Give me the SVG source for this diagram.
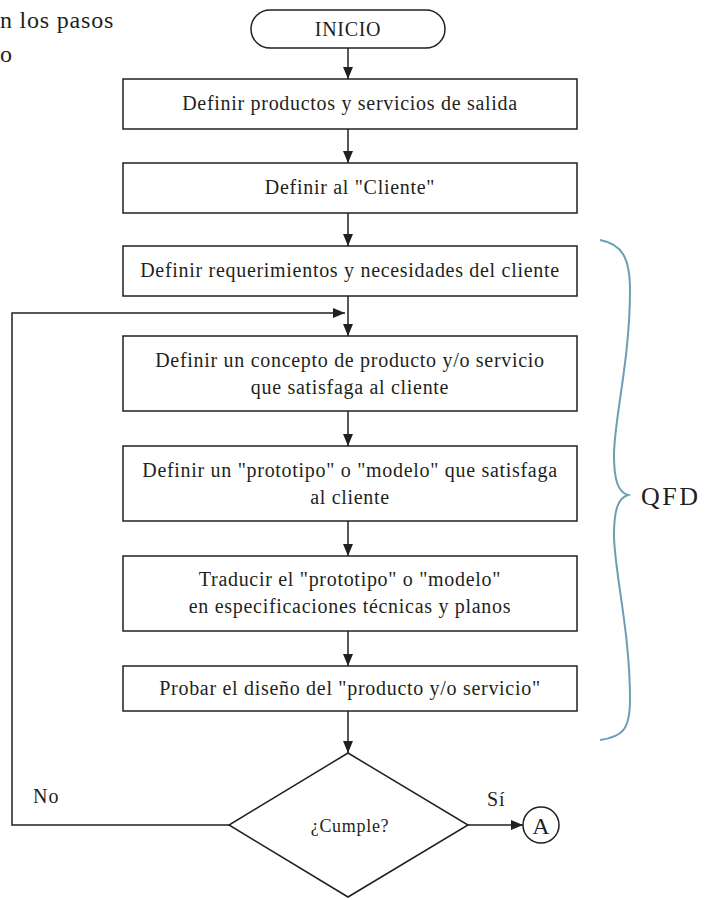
<svg xmlns="http://www.w3.org/2000/svg" width="712" height="900" viewBox="0 0 712 900">
  <style>
    .box { fill: #ffffff; stroke: #231f20; stroke-width: 1.5; }
    .edge { fill: none; stroke: #231f20; stroke-width: 1.5; }
    .lbl { font-family: "Liberation Serif", "Times New Roman", serif; font-size: 20px; letter-spacing: 0.7px; fill: #231f20; text-anchor: middle; }
    .side { font-family: "Liberation Serif", "Times New Roman", serif; font-size: 20px; letter-spacing: 1px; fill: #231f20; }
    .cap { font-family: "Liberation Serif", "Times New Roman", serif; font-size: 24px; letter-spacing: 0.8px; fill: #231f20; }
  </style>
  <defs>
    <marker id="arrow" viewBox="0 0 12 10" refX="12" refY="5" markerWidth="12" markerHeight="10" markerUnits="userSpaceOnUse" orient="auto">
      <path d="M0,0 L12,5 L0,10 Z" fill="#231f20"/>
    </marker>
  </defs>

  <rect width="712" height="900" fill="#ffffff"/>

  <!-- caption fragment at the page edge -->
  <text class="cap" x="0" y="28">n los pasos</text>
  <text class="cap" x="0" y="62">o</text>

  <!-- connectors -->
  <g id="connectors">
    <line class="edge" x1="348" y1="48" x2="348" y2="79" marker-end="url(#arrow)"/>
    <line class="edge" x1="348" y1="129" x2="348" y2="163" marker-end="url(#arrow)"/>
    <line class="edge" x1="348" y1="213" x2="348" y2="246" marker-end="url(#arrow)"/>
    <line class="edge" x1="348" y1="296" x2="348" y2="336" marker-end="url(#arrow)"/>
    <line class="edge" x1="348" y1="411" x2="348" y2="446" marker-end="url(#arrow)"/>
    <line class="edge" x1="348" y1="521" x2="348" y2="556" marker-end="url(#arrow)"/>
    <line class="edge" x1="348" y1="631" x2="348" y2="666" marker-end="url(#arrow)"/>
    <line class="edge" x1="348" y1="711" x2="348" y2="753" marker-end="url(#arrow)"/>
    <polyline class="edge" points="229,825 12,825 12,313 345,313" marker-end="url(#arrow)"/>
    <line class="edge" x1="468" y1="825" x2="523" y2="825" marker-end="url(#arrow)"/>
    <text class="side" x="33" y="803">No</text>
    <text class="side" x="487" y="806">Sí</text>
  </g>

  <g id="inicio">
    <rect class="box" x="251" y="10" width="194" height="38" rx="19" ry="19"/>
    <text class="lbl" x="348" y="36">INICIO</text>
  </g>

  <g id="paso1">
    <rect class="box" x="123" y="79" width="454" height="50"/>
    <text class="lbl" x="350" y="110">Definir productos y servicios de salida</text>
  </g>

  <g id="paso2">
    <rect class="box" x="123" y="163" width="454" height="50"/>
    <text class="lbl" x="350" y="194">Definir al "Cliente"</text>
  </g>

  <g id="paso3">
    <rect class="box" x="123" y="246" width="454" height="50"/>
    <text class="lbl" x="350" y="277">Definir requerimientos y necesidades del cliente</text>
  </g>

  <g id="paso4">
    <rect class="box" x="123" y="336" width="454" height="75"/>
    <text class="lbl" x="350" y="367">Definir un concepto de producto y/o servicio</text>
    <text class="lbl" x="350" y="394">que satisfaga al cliente</text>
  </g>

  <g id="paso5">
    <rect class="box" x="123" y="446" width="454" height="75"/>
    <text class="lbl" x="350" y="477">Definir un "prototipo" o "modelo" que satisfaga</text>
    <text class="lbl" x="350" y="504">al cliente</text>
  </g>

  <g id="paso6">
    <rect class="box" x="123" y="556" width="454" height="75"/>
    <text class="lbl" x="350" y="586">Traducir el "prototipo" o "modelo"</text>
    <text class="lbl" x="350" y="613">en especificaciones técnicas y planos</text>
  </g>

  <g id="paso7">
    <rect class="box" x="123" y="666" width="454" height="45"/>
    <text class="lbl" x="350" y="695">Probar el diseño del "producto y/o servicio"</text>
  </g>

  <g id="cumple">
    <polygon class="box" points="348,753 468,825 348,897 229,825"/>
    <text class="lbl" x="350" y="832" style="font-size:18px">¿Cumple?</text>
  </g>

  <g id="conector-a">
    <circle class="box" cx="541" cy="825" r="18"/>
    <text class="lbl" x="541" y="834" style="font-size:24px;letter-spacing:0">A</text>
  </g>

  <g id="qfd">
    <path d="M600,240 C622,244 630,258 630,290 C630,360 614,420 614,455 C614,480 618,492 628,495 C618,498 614,510 614,535 C614,570 630,630 630,700 C630,730 622,737 600,740" fill="none" stroke="#6d9fb4" stroke-width="2"/>
    <text class="cap" x="641" y="505" style="font-size:26px;letter-spacing:2.5px">QFD</text>
  </g>
</svg>
